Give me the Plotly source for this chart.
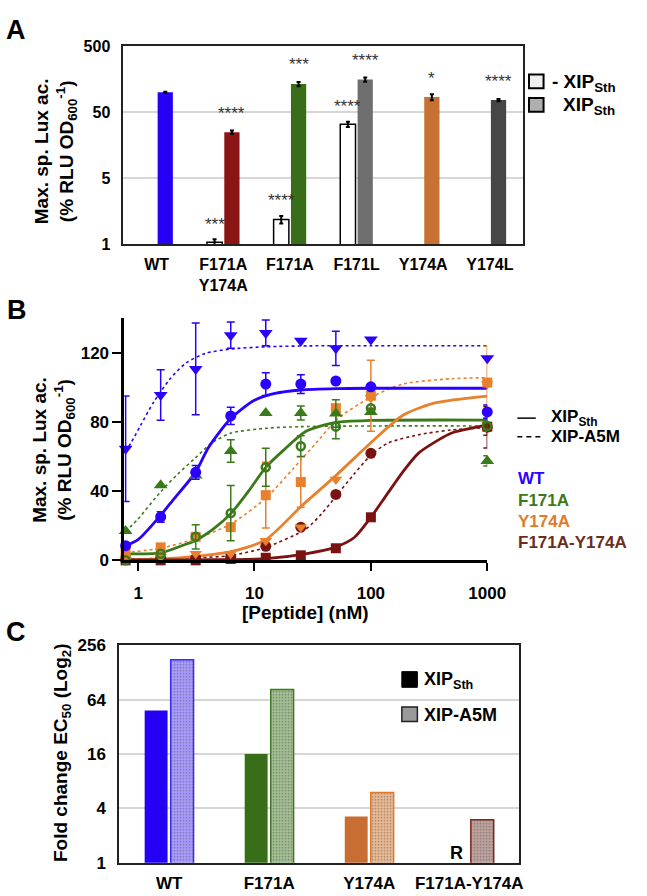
import numpy as np
import plotly.graph_objects as go

W, H = 647, 896
FONT = "Liberation Sans, Arial, sans-serif"

# ---------------- Panel A data ----------------
a_categories = ["WT", "F171A<br>Y174A", "F171A", "F171L", "Y174A", "Y174L"]
a_no_xip = [None, 0.53, 1.17, 32.8, None, None]
a_no_xip_err = [None, 0.06, 0.15, 3.0, None, None]
a_xip = [100, 24.7, 133, 156, 84.5, 76]
a_xip_err = [1.5, 1.5, 10, 12, 9, 3]
a_xip_colors = ["#2400F5", "#8B1515", "#386E17", "#6E6E6E", "#C87132", "#464646"]
a_stars_no = ["", "***", "****", "****", "", ""]
a_stars_no_y = [None, 1.11, 2.52, 67, None, None]
a_stars_xip = ["", "****", "***", "****", "*", "****"]
a_stars_xip_y = [None, 53.6, 289, 332, 177, 162]
a_tickvals = [0.5, 5, 50, 500]
a_ticktext = ["1", "5", "50", "500"]

# ---------------- Panel B data ----------------
conc = [0.78125, 1.5625, 3.125, 6.25, 12.5, 25, 50, 100, 1000]
wt_sth = [8.5, 25.1, 50.9, 83.5, 101.9, 101.9, 103.7, 100.3, 85.8]
wt_sth_err = [None, 3, 4, 5, 6.6, 5.4, None, None, 4]
wt_a5m = [64.5, 95.6, 110.7, 130.2, 131.5, 127, 122.6, 127.7, 116.9]
wt_a5m_err = [30.5, 14.6, 26.5, 7.6, 7.5, None, 9.9, None, None]
f171a_sth = [0, 3.8, 13.6, 27.3, 53.8, 66, 77.3, 88, 77.7]
f171a_sth_err = [None, None, 7, 16, 11, 6, 7, None, 3]
f171a_a5m = [17, 43.4, 49, 63.2, 85.2, 85.2, 84.9, 85.8, 57.5]
f171a_a5m_err = [None, None, None, 6.5, None, 4, 8, None, 3]
y174a_sth = [0.3, 1.9, 3.8, 3.8, 11.3, 19.2, 46.7, 94, 102]
y174a_a5m = [4.7, 7.5, 13.6, 19.2, 37.7, 45.3, 88, 95.2, 102.8]
y174a_a5m_err = [None, None, None, None, 19, 14.6, None, 20.5, 21]
dm_sth = [0, 0, 0, 0.8, 1.5, 2.9, 7, 24.9, 77.3]
dm_sth_err = [None, None, None, None, None, None, None, None, 5]
dm_a5m = [0.5, 1, 1, 2, 8.1, 19.2, 38.1, 61.9, 77]
dm_a5m_err = [None, None, None, None, None, None, None, None, 12]

# fitted curves
wt_sth_fit_x = [0.78, 1, 1.56, 2, 3.125, 4, 6.25, 10, 15, 25, 50, 100, 1000]
wt_sth_fit_y = [8.5, 12, 26, 35, 51, 65, 82, 92.5, 96.5, 98.5, 99.3, 99.5, 99.5]
wt_a5m_fit_x = [0.78, 0.87, 1.05, 1.36, 1.87, 2.58, 3.79, 6.3, 12.8, 30, 100, 1000]
wt_a5m_fit_y = [63, 68, 78, 91.5, 104.7, 114.1, 119.7, 122.2, 123.5, 124, 124.1, 124.1]
f171a_sth_fit_x = [0.78, 1.56, 2.5, 3.125, 4.5, 6.25, 9, 12.5, 18, 27.5, 50, 100, 1000]
f171a_sth_fit_y = [3.8, 4.3, 9, 11.5, 18.5, 27, 40.5, 53.8, 64, 74.5, 79.8, 80.9, 81.1]
f171a_a5m_fit_x = [0.78, 1, 1.56, 2.2, 3.125, 4.3, 6.3, 12.8, 25, 100, 1000]
f171a_a5m_fit_y = [16.5, 24, 39.6, 50, 59.4, 67.9, 73.6, 76.4, 77.3, 77.7, 77.7]
y174a_sth_fit_x = [0.78, 1.56, 3.125, 6.25, 12.5, 25, 50, 100, 190, 355, 1000]
y174a_sth_fit_y = [0.3, 0.8, 2.3, 5, 12, 31, 49, 68, 84, 91, 95]
y174a_a5m_fit_x = [0.78, 1.56, 3.125, 6.25, 12.5, 25, 33, 52, 100, 187, 490, 1000]
y174a_a5m_fit_y = [4.5, 7, 12.5, 21, 36, 58, 67, 82, 94.3, 101.9, 105, 105.6]
dm_sth_fit_x = [0.78, 3.125, 12.5, 27.5, 49, 72, 99, 136, 187, 257, 378, 489, 1000]
dm_sth_fit_y = [0.2, 0.3, 1, 3.8, 7.5, 13.2, 24.5, 37.7, 50.9, 62, 69.5, 73.5, 78.3]
dm_a5m_fit_x = [0.78, 3.125, 6.25, 12.5, 27.5, 37.8, 50, 72, 99, 140, 257, 489, 1000]
dm_a5m_fit_y = [0.8, 1.5, 2.8, 7.5, 18, 27, 37, 50, 60.5, 67.8, 72.6, 75.4, 76.7]

b_xticks = [1, 10, 100, 1000]
b_yticks = [0, 40, 80, 120]
b_legend_names = ["WT", "F171A", "Y174A", "F171A-Y174A"]

# ---------------- Panel C data ----------------
c_categories = ["WT", "F171A", "Y174A", "F171A-Y174A"]
c_sth = [48.5, 16, 3.25, None]
c_a5m = [177, 82.6, 6.0, 3.0]
c_sth_colors = ["#2400F5", "#376E17", "#C86E32", "#7A1A1A"]
c_a5m_fill = ["#A89CFF", "#A4BF94", "#EBBA94", "#BFA39E"]
c_a5m_line = ["#3A2BFF", "#3E7A1E", "#E07A2A", "#7A2A20"]
c_tickvals = [1, 4, 16, 64, 256]

BLUE = "#2B00FF"
GREEN = "#3B7A1B"
ORANGE = "#E8802E"
DRED = "#7A1212"


def px(x):
    return x / W


def py(y):
    return 1 - y / H


fig = go.Figure()

# ---- Panel A bars ----
xa = list(range(len(a_categories)))
fig.add_trace(go.Bar(x=xa, y=a_no_xip, xaxis="x", yaxis="y",
                     marker=dict(color="white", line=dict(color="black", width=1.5)),
                     error_y=dict(type="data", array=a_no_xip_err, color="black", thickness=2, width=2)))
fig.add_trace(go.Bar(x=xa, y=a_xip, xaxis="x", yaxis="y",
                     marker=dict(color=a_xip_colors, line=dict(width=0)),
                     error_y=dict(type="data", array=a_xip_err, color="black", thickness=2, width=2)))

# ---- Panel B ----
def curve(xs, ys, color, dash, width):
    fig.add_trace(go.Scatter(x=xs, y=ys, xaxis="x2", yaxis="y2", mode="lines",
                             line=dict(color=color, width=width, dash=dash, shape="spline", smoothing=0.7),
                             cliponaxis=False))

curve(wt_a5m_fit_x, wt_a5m_fit_y, BLUE, "3px,3px", 1.6)
curve(f171a_a5m_fit_x, f171a_a5m_fit_y, GREEN, "3px,3px", 1.6)
curve(y174a_a5m_fit_x, y174a_a5m_fit_y, ORANGE, "3px,3px", 1.6)
curve(dm_a5m_fit_x, dm_a5m_fit_y, DRED, "3px,3px", 1.6)
curve(wt_sth_fit_x, wt_sth_fit_y, BLUE, "solid", 2.8)
curve(f171a_sth_fit_x, f171a_sth_fit_y, GREEN, "solid", 2.8)
curve(y174a_sth_fit_x, y174a_sth_fit_y, ORANGE, "solid", 2.8)
curve(dm_sth_fit_x, dm_sth_fit_y, DRED, "solid", 2.8)


def pts(ys, err, color, symbol, size, lw=0, ecolor=None):
    fig.add_trace(go.Scatter(
        x=conc, y=ys, xaxis="x2", yaxis="y2", mode="markers", cliponaxis=False,
        marker=dict(color=color, symbol=symbol, size=size, line=dict(color=color, width=lw)),
        error_y=dict(type="data", array=err, color=ecolor or color, thickness=1.5, width=4)
        if err is not None else None))

pts(dm_sth, dm_sth_err, DRED, "square", 10)
pts(dm_a5m, dm_a5m_err, DRED, "circle", 11)
pts(y174a_sth, None, ORANGE, "triangle-down", 11)
pts(y174a_a5m, y174a_a5m_err, ORANGE, "square", 10)
pts(f171a_a5m, f171a_a5m_err, GREEN, "triangle-up", 12)
pts(f171a_sth, f171a_sth_err, GREEN, "circle-open", 8, lw=2.5)
pts(wt_sth, wt_sth_err, BLUE, "circle", 11)
pts(wt_a5m, wt_a5m_err, BLUE, "triangle-down", 12)

# ---- Panel C bars ----
xc = list(range(len(c_categories)))
fig.add_trace(go.Bar(x=xc, y=c_sth, xaxis="x3", yaxis="y3",
                     marker=dict(color=c_sth_colors, line=dict(width=0))))
fig.add_trace(go.Bar(x=xc, y=c_a5m, xaxis="x3", yaxis="y3",
                     marker=dict(color=c_a5m_fill, line=dict(color=c_a5m_line, width=1.5),
                                 pattern=dict(shape=".", size=3, solidity=0.25, fgcolor="rgba(255,255,255,0.35)"))))

tickfont = lambda s: dict(family=FONT, size=s, color="black", weight="bold")

fig.update_layout(
    width=W, height=H, margin=dict(l=0, r=0, t=0, b=0),
    paper_bgcolor="white", plot_bgcolor="white", showlegend=False,
    barmode="group", bargap=0.48, bargroupgap=0.12,
    font=dict(family=FONT, color="black"),
    xaxis=dict(domain=[px(127), px(539)], anchor="y", range=[-0.5, 5.5],
               tickvals=xa, ticktext=a_categories, ticks="", showline=True, mirror=True,
               linecolor="#222", linewidth=1.5, showgrid=False, zeroline=False,
               tickfont=tickfont(16), ticklabelstandoff=5),
    yaxis=dict(domain=[py(240), py(38)], anchor="x", type="log",
               range=[np.log10(0.5), np.log10(500)], tickvals=a_tickvals, ticktext=a_ticktext,
               ticks="", showline=True, mirror=True, linecolor="#222", linewidth=1.5,
               showgrid=True, gridcolor="#D6D6D6", gridwidth=1.5, tickfont=tickfont(16),
               ticklabelstandoff=8),
    xaxis2=dict(domain=[px(128), px(502)], anchor="y2", type="log",
                range=[np.log10(0.76), 3], tickvals=b_xticks, ticktext=[str(v) for v in b_xticks],
                ticks="outside", ticklen=8, tickwidth=2, tickcolor="black",
                showline=True, linecolor="black", linewidth=2.5, showgrid=False, zeroline=False,
                tickfont=tickfont(17), ticklabelstandoff=7),
    yaxis2=dict(domain=[py(563.3), py(315.9)], anchor="x2", range=[0, 140],
                tickvals=b_yticks, ticks="outside", ticklen=9, tickwidth=2, tickcolor="black",
                showline=True, linecolor="black", linewidth=2.5, showgrid=False, zeroline=False,
                tickfont=tickfont(17)),
    xaxis3=dict(domain=[px(122.7), px(535)], anchor="y3", range=[-0.5, 3.5],
                tickvals=xc, ticktext=c_categories, ticks="", showline=True, mirror=True,
                linecolor="#222", linewidth=1.5, showgrid=False, zeroline=False,
                tickfont=tickfont(17), ticklabelstandoff=4),
    yaxis3=dict(domain=[py(872.3), py(650)], anchor="x3", type="log",
                range=[0, np.log10(256)], tickvals=c_tickvals, ticktext=[str(v) for v in c_tickvals],
                ticks="", showline=True, mirror=True, linecolor="#222", linewidth=1.5,
                showgrid=True, gridcolor="#D6D6D6", gridwidth=1.5, tickfont=tickfont(17),
                ticklabelstandoff=8),
)

ann = []
shapes = []


def text(x, y, t, size, color="black", xanchor="center", yanchor="middle", angle=0, bold=True):
    ann.append(dict(x=x, y=y, xref="paper", yref="paper", text=t, showarrow=False,
                    xanchor=xanchor, yanchor=yanchor, textangle=angle,
                    font=dict(family=FONT, size=size, color=color, weight="bold" if bold else "normal")))

# panel letters
text(px(16), py(21.5), "A", 27)
text(px(17), py(307.5), "B", 27)
text(px(16.5), py(636), "C", 27)

# axis titles
ylab = "Max. sp. Lux ac.<br>(% RLU OD<sub>600</sub><sup>-1</sup>)"
text(px(58), py(145), ylab, 19, angle=-90)
text(px(55), py(450), ylab, 19, angle=-90)
text(px(315), py(617), "[Peptide] (nM)", 19)
text(px(64), py(760), "Fold change EC<sub>50</sub> (Log<sub>2</sub>)", 19, angle=-90)

# asterisks (panel A)
off = 0.131
for i in range(len(a_categories)):
    for t, yv, dx in ((a_stars_no[i], a_stars_no_y[i], -off), (a_stars_xip[i], a_stars_xip_y[i], off)):
        if t:
            ann.append(dict(x=xa[i] + dx, y=np.log10(yv), xref="x", yref="y", text=t,
                            showarrow=False, yshift=-3,
                            font=dict(family=FONT, size=17, color="#333")))

# legend panel A
shapes.append(dict(type="rect", xref="paper", yref="paper", x0=px(545), x1=px(560), y0=py(81), y1=py(67),
                   fillcolor="#EFEFEF", line=dict(color="black", width=2)))
shapes.append(dict(type="rect", xref="paper", yref="paper", x0=px(545), x1=px(560), y0=py(105), y1=py(91),
                   fillcolor="#AFAFAF", line=dict(color="black", width=2)))
text(px(567), py(76), "- XIP<sub>Sth</sub>", 19, xanchor="left")
text(px(578), py(99), "XIP<sub>Sth</sub>", 19, xanchor="left")

# legend panel B
shapes.append(dict(type="line", xref="paper", yref="paper", x0=px(533), x1=px(552), y0=py(418), y1=py(418),
                   line=dict(color="black", width=1.5)))
shapes.append(dict(type="line", xref="paper", yref="paper", x0=px(533), x1=px(560), y0=py(437), y1=py(437),
                   line=dict(color="black", width=1.5, dash="5px,4px")))
text(px(566), py(418), "XIP<sub>Sth</sub>", 17, xanchor="left")
text(px(566), py(437), "XIP-A5M", 17, xanchor="left")
for name, col, yy in zip(b_legend_names, ["#2B00FF", "#3B7A1B", "#E07B2A", "#6B2E1E"], [480, 502, 524, 545]):
    text(px(532), py(yy), name, 17, color=col, xanchor="left")

# legend panel C
shapes.append(dict(type="rect", xref="paper", yref="paper", x0=px(420), x1=px(525), y0=py(740), y1=py(665),
                   fillcolor="white", line=dict(width=0), layer="between"))
shapes.append(dict(type="rect", xref="paper", yref="paper", x0=px(414), x1=px(430), y0=py(693), y1=py(677),
                   fillcolor="black", line=dict(color="black", width=1)))
shapes.append(dict(type="rect", xref="paper", yref="paper", x0=px(414), x1=px(430), y0=py(728), y1=py(713),
                   fillcolor="#9A9A9A", line=dict(color="#222", width=1.5)))
text(px(435), py(686), "XIP<sub>Sth</sub>", 18, xanchor="left")
text(px(435), py(721), "XIP-A5M", 18, xanchor="left")

# "R" (panel C)
ann.append(dict(x=xc[3] - 0.13, y=np.log10(1.3), xref="x3", yref="y3", text="R", showarrow=False,
                font=dict(family=FONT, size=18, color="black", weight="bold")))

fig.update_layout(annotations=ann, shapes=shapes)
fig.write_html("out.html", config={"displayModeBar": False},
               post_script="document.body.style.margin='0px';")
